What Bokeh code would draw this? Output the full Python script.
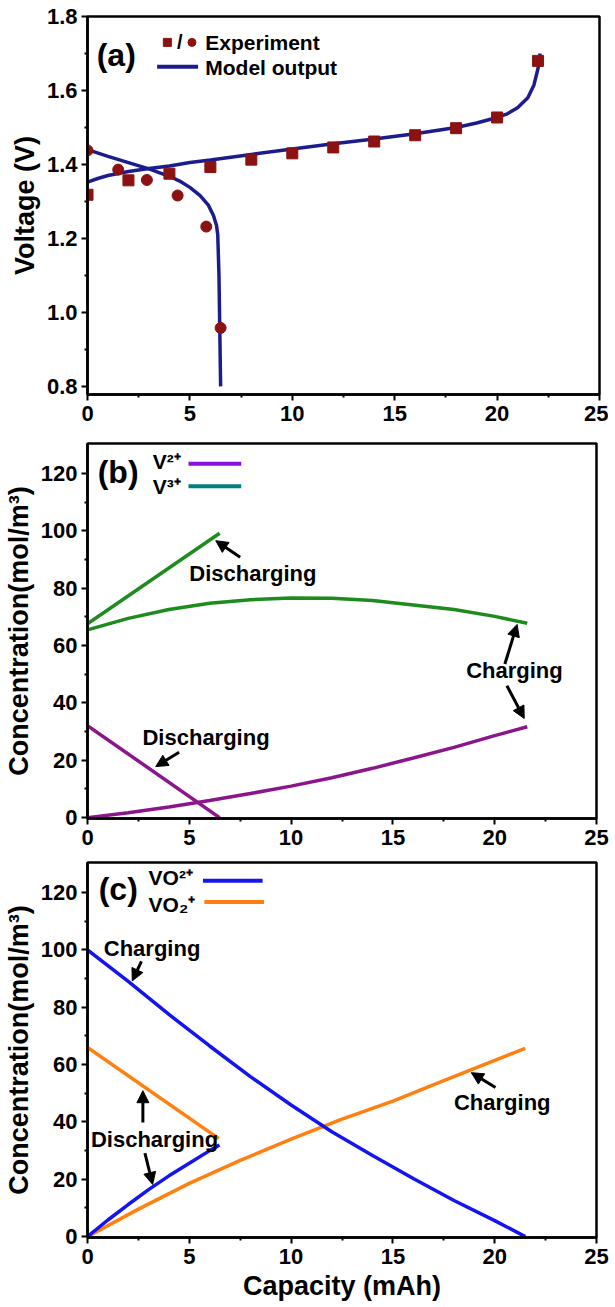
from bokeh.plotting import figure
from bokeh.layouts import column
from bokeh.models import Range1d, FixedTicker, PrintfTickFormatter, Arrow, NormalHead
from bokeh.core.properties import value
from bokeh.embed import file_html
from bokeh.resources import INLINE

FONT = "Liberation Sans"

# ---------------- data: panel (a) ----------------
exp_charge_cap = [0, 2, 4, 6, 8, 10, 12, 14, 16, 18, 20, 22]
exp_charge_v = [1.318, 1.357, 1.375, 1.393, 1.413, 1.430, 1.446, 1.462, 1.479, 1.498, 1.527, 1.680]
exp_dis_cap = [0, 1.5, 2.9, 4.4, 5.8, 6.5]
exp_dis_v = [1.438, 1.386, 1.358, 1.316, 1.232, 0.958]
model_charge_cap = [0, 0.5, 1, 2, 3, 4, 5, 6, 8, 10, 12, 14, 16, 18, 19, 20, 20.5, 21, 21.5, 21.8, 22.0, 22.1]
model_charge_v = [1.352, 1.362, 1.370, 1.381, 1.389, 1.396, 1.405, 1.412, 1.427, 1.442, 1.456, 1.469,
                  1.483, 1.500, 1.512, 1.527, 1.537, 1.553, 1.580, 1.615, 1.660, 1.700]
model_dis_cap = [0, 1, 2, 3, 4, 4.5, 5, 5.5, 5.9, 6.15, 6.3, 6.36, 6.42, 6.46, 6.5]
model_dis_v = [1.440, 1.422, 1.405, 1.388, 1.368, 1.355, 1.338, 1.316, 1.290, 1.262, 1.235, 1.210,
               1.100, 0.950, 0.800]

# ---------------- data: panel (b) ----------------
v3_dis_cap = [0, 6.49]
v3_dis_c = [67.6, 99.2]
v3_chg_cap = [0, 2, 4, 6, 8, 10, 12, 14, 16, 18, 20, 21.6]
v3_chg_c = [65.5, 69.5, 72.6, 74.8, 76.0, 76.6, 76.5, 75.7, 74.2, 72.6, 70.2, 67.8]
v2_dis_cap = [0, 6.49]
v2_dis_c = [32.1, 0.0]
v2_chg_cap = [0, 2, 4, 6, 8, 10, 12, 14, 16, 18, 20, 21.6]
v2_chg_c = [0, 1.7, 3.7, 6.0, 8.4, 11.0, 13.9, 17.2, 20.8, 24.5, 28.6, 31.7]

# ---------------- data: panel (c) ----------------
vo_chg_cap = [0, 2, 4, 6, 8, 10, 12, 14, 16, 18, 20, 21.5]
vo_chg_c = [100, 89.0, 77.5, 66.5, 55.8, 45.9, 36.6, 28.3, 20.3, 12.6, 5.6, 0]
vo_dis_cap = [0, 1, 2, 3, 4, 5, 6, 6.48]
vo_dis_c = [0, 5.8, 11.2, 16.4, 21.2, 25.6, 30.0, 32.0]
vo2_dis_cap = [0, 6.45]
vo2_dis_c = [66.0, 34.2]
vo2_chg_cap = [0, 2.5, 5, 7.5, 10, 12.5, 15, 17.5, 20, 21.5]
vo2_chg_c = [0, 9.6, 18.6, 26.6, 34.0, 41.0, 47.3, 54.4, 61.5, 65.7]

x_ticks = [0, 5, 10, 15, 20, 25]
x_minor = [2.5, 7.5, 12.5, 17.5, 22.5]
v_ticks = [0.8, 1.0, 1.2, 1.4, 1.6, 1.8]
v_minor = [0.9, 1.1, 1.3, 1.5, 1.7]
c_ticks = [0, 20, 40, 60, 80, 100, 120]
c_minor = [10, 30, 50, 70, 90, 110]

TOTAL_W = 605


def make_fig(ylo, yhi, yt, ym, fmt, left, top, bottom, fw, fh, xlabel=None, ylabel=None):
    p = figure(output_backend="svg", toolbar_location=None,
               frame_width=fw, frame_height=fh,
               min_border_left=left, min_border_top=top, min_border_bottom=bottom,
               min_border_right=TOTAL_W - left - fw,
               x_range=Range1d(0, 25), y_range=Range1d(ylo, yhi))
    p.grid.visible = False
    p.outline_line_color = "black"
    p.outline_line_width = 2.5
    p.outline_line_alpha = 1
    p.background_fill_color = "white"
    p.border_fill_color = "white"
    p.xaxis.ticker = FixedTicker(ticks=x_ticks, minor_ticks=x_minor)
    p.yaxis.ticker = FixedTicker(ticks=yt, minor_ticks=ym)
    p.yaxis.formatter = PrintfTickFormatter(format=fmt)
    for ax in [p.xaxis[0], p.yaxis[0]]:
        ax.axis_line_width = 2.5
        ax.axis_line_color = "black"
        ax.major_tick_line_width = 2
        ax.minor_tick_line_width = 2
        ax.major_tick_out = 6
        ax.major_tick_in = 0
        ax.minor_tick_out = 3
        ax.minor_tick_in = 0
        ax.major_label_text_font = FONT
        ax.major_label_text_font_style = "bold"
        ax.major_label_text_font_size = "22px"
        ax.major_label_text_color = "black"
        ax.axis_label_text_font = FONT
        ax.axis_label_text_font_style = "bold"
        ax.axis_label_text_font_size = "27px"
        ax.axis_label_text_color = "black"
        ax.axis_label_standoff = 4
    p.xaxis.major_label_standoff = 5
    p.yaxis.major_label_standoff = 4
    if xlabel:
        p.xaxis.axis_label = xlabel
        p.xaxis.axis_label_standoff = 4
    if ylabel:
        p.yaxis.axis_label = ylabel
    return p


def txt(p, x, y, s, size="22px", align="left"):
    p.text(x=[x], y=[y], text=[s], text_font=value(FONT), text_font_style="bold",
           text_font_size=size, text_baseline="middle", text_align=align, text_color="black")


def arrow(p, x0, y0, x1, y1):
    p.add_layout(Arrow(end=NormalHead(size=12, fill_color="black", line_color="black", line_width=1),
                       x_start=x0, y_start=y0, x_end=x1, y_end=y1,
                       line_width=3, line_color="black"))


# ---------------- panel (a) ----------------
NAVY = "#1c1c8c"
RED = "#8c1111"
pa = make_fig(0.778, 1.8, v_ticks, v_minor, "%.1f", 78, 16, 36, 512, 378, ylabel="Voltage (V)")
pa.line(model_charge_cap, model_charge_v, line_color=NAVY, line_width=3.5)
pa.line(model_dis_cap, model_dis_v, line_color=NAVY, line_width=3.5)
pa.scatter(exp_charge_cap, exp_charge_v, marker="square", size=11, fill_color=RED, line_color=RED)
pa.scatter(exp_dis_cap, exp_dis_v, marker="circle", size=11, fill_color=RED, line_color=RED)
txt(pa, 0.45, 1.697, "(a)", size="32px")
pa.scatter([3.9], [1.730], marker="square", size=8, fill_color=RED, line_color=RED)
txt(pa, 4.5, 1.730, "/", size="20px", align="center")
pa.scatter([5.1], [1.730], marker="circle", size=8, fill_color=RED, line_color=RED)
txt(pa, 5.75, 1.730, "Experiment", size="21px")
pa.segment(x0=[3.4], y0=[1.664], x1=[5.4], y1=[1.664], line_color=NAVY, line_width=4)
txt(pa, 5.75, 1.662, "Model output", size="21px")

# ---------------- panel (b) ----------------
GREEN = "#1e8b1e"
PURPLE = "#8b168b"
pb = make_fig(-0.3, 130.5, c_ticks, c_minor, "%d", 83, 13, 36, 509, 375,
              ylabel="Concentration(mol/m³)")
pb.line(v3_dis_cap, v3_dis_c, line_color=GREEN, line_width=3.5)
pb.line(v3_chg_cap, v3_chg_c, line_color=GREEN, line_width=3.5)
pb.line(v2_dis_cap, v2_dis_c, line_color=PURPLE, line_width=3.5)
pb.line(v2_chg_cap, v2_chg_c, line_color=PURPLE, line_width=3.5)
txt(pb, 0.5, 120.7, "(b)", size="32px")
txt(pb, 3.2, 124.2, "V²⁺", size="21px")
pb.segment(x0=[4.96], y0=[123.4], x1=[7.55], y1=[123.4], line_color="#8b10e0", line_width=4)
txt(pb, 3.2, 115.5, "V³⁺", size="21px")
pb.segment(x0=[4.96], y0=[115.6], x1=[7.55], y1=[115.6], line_color="#008080", line_width=4)
txt(pb, 5.0, 85.1, "Discharging")
arrow(pb, 7.5, 90.8, 6.3, 96.6)
txt(pb, 2.7, 28.0, "Discharging")
arrow(pb, 4.5, 22.8, 3.35, 17.8)
txt(pb, 18.6, 51.3, "Charging")
arrow(pb, 20.5, 53.6, 21.1, 67.4)
arrow(pb, 20.6, 46.0, 21.45, 34.6)

# ---------------- panel (c) ----------------
BLUE = "#1414f0"
ORANGE = "#ff8010"
pc = make_fig(-0.3, 130.5, c_ticks, c_minor, "%d", 83, 8, 40, 509, 375,
              xlabel="Capacity (mAh)", ylabel="Concentration(mol/m³)")
pc.line(vo2_dis_cap, vo2_dis_c, line_color=ORANGE, line_width=3.5)
pc.line(vo2_chg_cap, vo2_chg_c, line_color=ORANGE, line_width=3.5)
pc.line(vo_chg_cap, vo_chg_c, line_color=BLUE, line_width=3.5)
pc.line(vo_dis_cap, vo_dis_c, line_color=BLUE, line_width=3.5)
txt(pc, 0.55, 121.1, "(c)", size="32px")
txt(pc, 3.0, 125.1, "VO²⁺", size="21px")
pc.segment(x0=[5.67], y0=[124.1], x1=[8.6], y1=[124.1], line_color=BLUE, line_width=4)
txt(pc, 3.0, 116.0, "VO₂⁺", size="21px")
pc.segment(x0=[5.74], y0=[116.7], x1=[8.67], y1=[116.7], line_color=ORANGE, line_width=4)
txt(pc, 0.8, 100.5, "Charging")
arrow(pc, 2.65, 96.0, 2.2, 89.2)
txt(pc, 0.17, 33.9, "Discharging")
arrow(pc, 2.72, 39.8, 2.72, 50.9)
arrow(pc, 2.82, 29.1, 3.2, 18.2)
txt(pc, 18.0, 46.9, "Charging")
arrow(pc, 20.04, 52.0, 18.85, 57.2)

layout = column(pa, pb, pc, spacing=0)
open("out.html", "w").write(file_html(layout, INLINE))
